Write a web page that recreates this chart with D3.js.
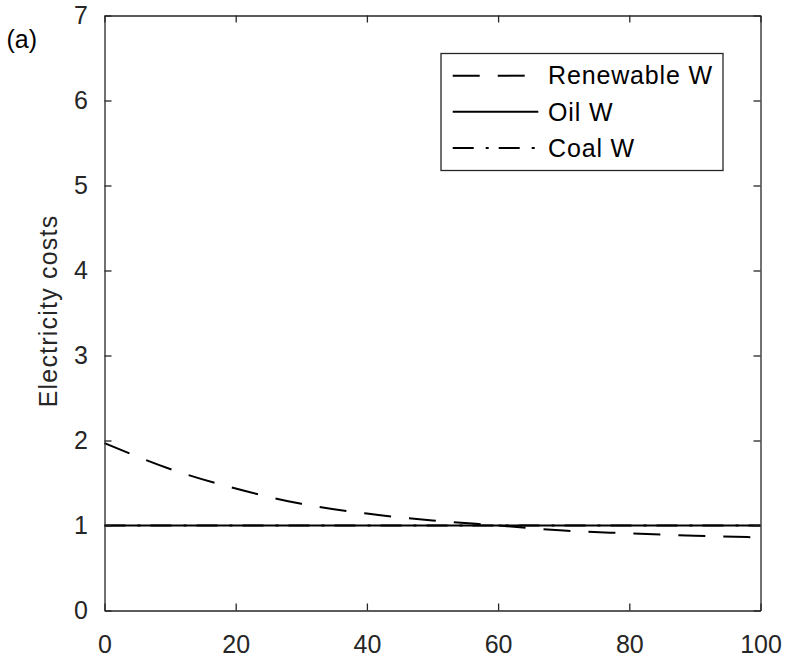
<!DOCTYPE html>
<html>
<head>
<meta charset="utf-8">
<script src="https://cdn.jsdelivr.net/npm/d3@7"></script>
<style>
  html, body { margin: 0; padding: 0; background: #fff; }
  svg { display: block; font-family: Arial, "Liberation Sans", Helvetica, sans-serif; }
</style>
</head>
<body>
<svg id="chart" width="786" height="660"></svg>
<script>
// Share of renewable capacity (x) and relative electricity costs
const xValues = [0, 10, 20, 30, 40, 50, 60, 70, 80, 90, 100];
const renewableW = [1.97, 1.665, 1.435, 1.255, 1.14, 1.06, 1.0, 0.94, 0.908, 0.88, 0.86];
const oilW = [1, 1, 1, 1, 1, 1, 1, 1, 1, 1, 1];
const coalW = [1, 1, 1, 1, 1, 1, 1, 1, 1, 1, 1];
const xTicks = [0, 20, 40, 60, 80, 100];
const yTicks = [0, 1, 2, 3, 4, 5, 6, 7];
const seriesNames = ["Renewable W", "Oil W", "Coal W"];
const yLabel = "Electricity costs";
const panelLabel = "(a)";

const axisColor = "#262626";
const fontSize = 25;
const margin = { left: 104.5, top: 15.5 };
const width = 656, height = 595;

const svg = d3.select("#chart");
const g = svg.append("g").attr("transform", `translate(${margin.left},${margin.top})`);

const x = d3.scaleLinear().domain([0, 100]).range([0, width]);
const y = d3.scaleLinear().domain([0, 7]).range([height, 0]);

// Series lines (coal drawn first so the solid oil line sits on top)
const series = [
  { name: seriesNames[2], values: coalW, dash: "21,12,3,10" },
  { name: seriesNames[1], values: oilW, dash: null },
  { name: seriesNames[0], values: renewableW, dash: "27,18" }
];

const line = d3.line()
  .x((d, i) => x(xValues[i]))
  .y(d => y(d))
  .curve(d3.curveMonotoneX);

series.forEach(s => {
  g.append("path")
    .datum(s.values)
    .attr("fill", "none")
    .attr("stroke", "#000")
    .attr("stroke-width", 2)
    .attr("stroke-dasharray", s.dash)
    .attr("d", line);
});

// Axes with inward ticks on all four sides
function styleAxis(sel) {
  sel.selectAll("path").attr("stroke", axisColor).attr("stroke-width", 1.3);
  sel.selectAll("line").attr("stroke", axisColor).attr("stroke-width", 1.3);
  sel.selectAll("text").attr("fill", axisColor).attr("font-size", fontSize);
}

const fmt = d3.format("d");

const xBottom = g.append("g").attr("transform", `translate(0,${height})`)
  .call(d3.axisBottom(x).tickValues(xTicks).tickSize(-7).tickSizeOuter(0).tickPadding(25).tickFormat(fmt));
styleAxis(xBottom);

const xTop = g.append("g")
  .call(d3.axisTop(x).tickValues(xTicks).tickSize(-7).tickSizeOuter(0).tickFormat(""));
styleAxis(xTop);

const yLeft = g.append("g")
  .call(d3.axisLeft(y).tickValues(yTicks).tickSize(-7).tickSizeOuter(0).tickPadding(16.5).tickFormat(fmt));
styleAxis(yLeft);

const yRight = g.append("g").attr("transform", `translate(${width},0)`)
  .call(d3.axisRight(y).tickValues(yTicks).tickSize(-7).tickSizeOuter(0).tickFormat(""));
styleAxis(yRight);

// Y axis title
svg.append("text")
  .attr("transform", `translate(56.5,311) rotate(-90)`)
  .attr("text-anchor", "middle")
  .attr("font-size", fontSize)
  .attr("letter-spacing", 1.2)
  .attr("fill", axisColor)
  .text(yLabel);

// Panel label
svg.append("text")
  .attr("x", 6.5)
  .attr("y", 48)
  .attr("font-size", fontSize)
  .attr("fill", "#000")
  .text(panelLabel);

// Legend
const legend = svg.append("g");
legend.append("rect")
  .attr("x", 441).attr("y", 53.5)
  .attr("width", 282).attr("height", 117)
  .attr("fill", "#fff")
  .attr("stroke", axisColor)
  .attr("stroke-width", 1.3);

const legendItems = [
  { name: seriesNames[0], dash: "27,18" },
  { name: seriesNames[1], dash: null },
  { name: seriesNames[2], dash: "21,12,3,10" }
];
const rowY = d3.scalePoint().domain(legendItems.map(d => d.name)).range([75.7, 148]);

legendItems.forEach(item => {
  const yy = rowY(item.name);
  legend.append("line")
    .attr("x1", 452.7).attr("x2", 538.3)
    .attr("y1", yy).attr("y2", yy)
    .attr("stroke", "#000")
    .attr("stroke-width", 2)
    .attr("stroke-dasharray", item.dash);
  legend.append("text")
    .attr("x", 548)
    .attr("y", yy)
    .attr("dy", "0.35em")
    .attr("font-size", fontSize)
    .attr("letter-spacing", 0.85)
    .attr("fill", "#000")
    .text(item.name);
});
</script>
</body>
</html>
